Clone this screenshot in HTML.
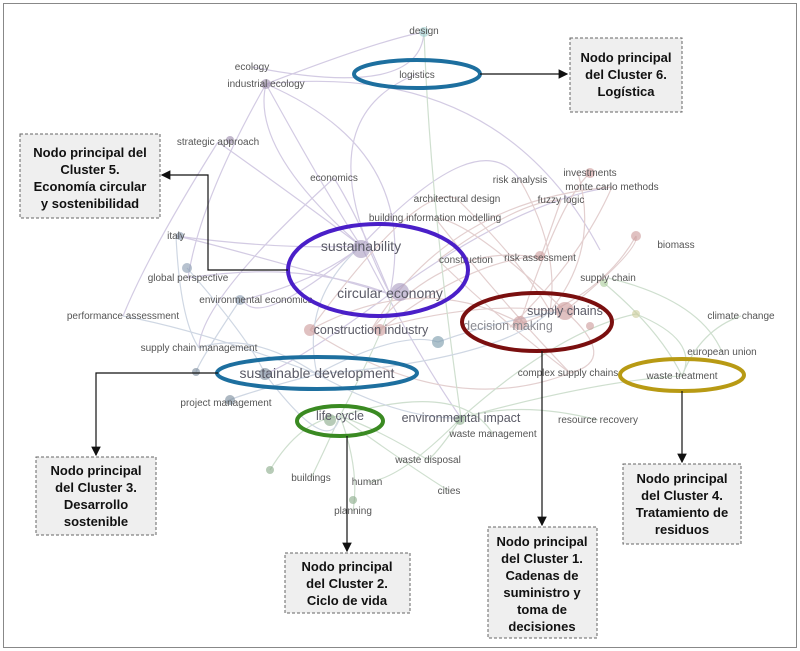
<!DOCTYPE html>
<html><head><meta charset="utf-8"><style>
html,body{margin:0;padding:0;background:#fff;}
svg{display:block;}
.l{font-family:"Liberation Sans",sans-serif;fill:#555;font-size:10px;text-anchor:middle;}
.b{font-family:"Liberation Sans",sans-serif;fill:#5a5a66;font-size:14px;text-anchor:middle;}
.m{font-family:"Liberation Sans",sans-serif;fill:#5a5a66;font-size:12.5px;text-anchor:middle;}
.bx{font-family:"Liberation Sans",sans-serif;font-weight:bold;font-size:13px;fill:#111;text-anchor:middle;}
</style></head><body>
<svg width="800" height="651" viewBox="0 0 800 651" xmlns="http://www.w3.org/2000/svg">
<defs><marker id="a" markerWidth="8" markerHeight="8" refX="7" refY="4" orient="auto"><path d="M0,0 L8,4 L0,8 z" fill="#111"/></marker></defs>
<rect x="3.5" y="3.5" width="793" height="644" fill="#fff" stroke="#888" stroke-width="1"/>
<g fill="none" stroke-width="1.2" opacity="0.5">
<g stroke="#a898c8">
<path d="M266,84 Q330,200 361,246"/><path d="M266,84 Q420,150 390,294"/><path d="M218,142 Q300,200 361,246"/><path d="M334,178 Q360,220 390,294"/><path d="M176,236 Q280,250 361,246"/><path d="M188,278 Q300,260 390,294"/><path d="M243,300 Q320,280 361,246"/><path d="M266,84 Q200,200 188,278"/><path d="M252,67 Q420,100 424,32"/><path d="M266,84 Q500,60 600,250"/><path d="M218,142 Q150,250 123,316"/><path d="M334,178 Q200,300 199,348"/>
<path d="M361,246 Q250,150 266,84"/><path d="M390,294 Q300,120 417,74"/><path d="M361,246 Q480,120 520,180"/><path d="M390,294 Q200,240 176,236"/><path d="M361,246 Q260,330 243,300"/><path d="M390,294 Q300,360 265,374"/><path d="M361,246 Q420,360 461,418"/><path d="M390,294 Q520,200 612,187"/><path d="M266,84 Q380,40 424,32"/>
</g>
<g stroke="#c8a0a0">
<path d="M371,330 Q450,240 540,258"/><path d="M371,330 Q480,300 550,311"/><path d="M457,199 Q520,260 550,311"/><path d="M520,180 Q560,250 550,311"/><path d="M435,218 Q500,300 570,373"/><path d="M578,173 Q600,250 550,311"/><path d="M612,187 Q580,260 510,327"/><path d="M561,200 Q540,260 540,258"/><path d="M438,260 Q500,320 570,373"/><path d="M371,330 Q450,200 612,187"/><path d="M310,330 Q450,420 570,373"/><path d="M636,236 Q600,300 510,327"/>
<path d="M565,311 Q470,220 435,218"/><path d="M520,323 Q420,270 310,330"/><path d="M565,311 Q640,250 636,236"/><path d="M520,323 Q560,200 590,173"/><path d="M310,330 Q420,180 457,199"/><path d="M380,330 Q470,260 540,256"/><path d="M565,311 Q620,360 570,373"/><path d="M438,260 Q520,200 561,200"/>
</g>
<g stroke="#a0c0a0">
<path d="M340,416 Q400,460 449,491"/><path d="M340,416 Q320,460 311,478"/><path d="M340,416 Q360,470 353,511"/><path d="M461,418 Q440,450 428,460"/><path d="M461,418 Q520,400 598,420"/><path d="M461,418 Q400,480 367,482"/><path d="M270,470 Q300,420 340,416"/><path d="M461,418 Q600,380 682,376"/><path d="M682,376 Q700,330 741,316"/><path d="M608,278 Q700,300 722,352"/><path d="M340,416 Q400,300 390,294"/><path d="M424,32 Q430,200 461,418"/>
<path d="M636,314 Q700,340 682,376"/><path d="M604,283 Q660,330 682,376"/><path d="M461,418 Q560,330 636,314"/><path d="M340,416 Q460,380 493,434"/><path d="M428,460 Q380,430 340,416"/>
</g>
<g stroke="#a0b0c8">
<path d="M317,374 Q220,400 226,403"/><path d="M317,374 Q250,330 199,348"/><path d="M317,374 Q200,330 123,316"/><path d="M317,374 Q400,330 438,342"/><path d="M317,374 Q300,300 361,246"/><path d="M176,236 Q180,320 199,348"/><path d="M317,374 Q400,420 461,418"/><path d="M317,374 Q500,360 550,311"/>
<path d="M187,268 Q250,340 265,374"/><path d="M240,300 Q200,360 196,372"/><path d="M438,342 Q500,320 565,311"/><path d="M265,374 Q330,460 340,416"/>
</g>
</g>
<g opacity="0.6">
<circle cx="424" cy="32" r="5" fill="#9cc"/><circle cx="266" cy="84" r="5" fill="#98a"/><circle cx="361" cy="249" r="9" fill="#a99bc0"/><circle cx="400" cy="292" r="9" fill="#a99bc0"/><circle cx="310" cy="330" r="6" fill="#c99"/><circle cx="380" cy="330" r="6" fill="#c99"/><circle cx="438" cy="342" r="6" fill="#79a"/><circle cx="565" cy="311" r="9" fill="#c99"/><circle cx="520" cy="323" r="7" fill="#c99"/><circle cx="590" cy="326" r="4" fill="#c99"/><circle cx="540" cy="256" r="5" fill="#c99"/><circle cx="636" cy="236" r="5" fill="#c99"/><circle cx="590" cy="173" r="5" fill="#c99"/><circle cx="230" cy="140" r="4" fill="#98a"/><circle cx="187" cy="268" r="5" fill="#889ab0"/><circle cx="240" cy="300" r="5" fill="#889ab0"/><circle cx="265" cy="374" r="6" fill="#789"/><circle cx="196" cy="372" r="4" fill="#789"/><circle cx="230" cy="400" r="5" fill="#789"/><circle cx="330" cy="420" r="6" fill="#8a8"/><circle cx="460" cy="420" r="5" fill="#8a8"/><circle cx="270" cy="470" r="4" fill="#8a8"/><circle cx="353" cy="500" r="4" fill="#8a8"/><circle cx="636" cy="314" r="4" fill="#cc9"/><circle cx="604" cy="283" r="4" fill="#ac9"/><circle cx="180" cy="236" r="4" fill="#889ab0"/></g>
<g>
<text class="l" x="424" y="34">design</text>
<text class="l" x="252" y="70">ecology</text>
<text class="l" x="266" y="87">industrial ecology</text>
<text class="l" x="417" y="78">logistics</text>
<text class="l" x="218" y="145">strategic approach</text>
<text class="l" x="334" y="181">economics</text>
<text class="l" x="520" y="183">risk analysis</text>
<text class="l" x="590" y="176">investments</text>
<text class="l" x="612" y="190">monte carlo methods</text>
<text class="l" x="457" y="202">architectural design</text>
<text class="l" x="561" y="203">fuzzy logic</text>
<text class="l" x="435" y="221">building information modelling</text>
<text class="l" x="176" y="239">italy</text>
<text class="l" x="676" y="248">biomass</text>
<text class="b" x="361" y="251">sustainability</text>
<text class="l" x="466" y="263">construction</text>
<text class="l" x="540" y="261">risk assessment</text>
<text class="l" x="608" y="281">supply chain</text>
<text class="l" x="188" y="281">global perspective</text>
<text class="l" x="256" y="303">environmental economics</text>
<text class="b" x="390" y="298">circular economy</text>
<text class="m" x="565" y="315">supply chains</text>
<text class="l" x="741" y="319">climate change</text>
<text class="l" x="123" y="319">performance assessment</text>
<text class="m" x="371" y="334">construction industry</text>
<text class="m" x="508" y="330" style="fill:#8a8a90">decision making</text>
<text class="l" x="199" y="351">supply chain management</text>
<text class="l" x="722" y="355">european union</text>
<text class="b" x="317" y="378">sustainable development</text>
<text class="l" x="568" y="376">complex supply chains</text>
<text class="l" x="682" y="379">waste treatment</text>
<text class="l" x="226" y="406">project management</text>
<text class="m" x="340" y="420">life cycle</text>
<text class="m" x="461" y="422">environmental impact</text>
<text class="l" x="598" y="423">resource recovery</text>
<text class="l" x="493" y="437">waste management</text>
<text class="l" x="428" y="463">waste disposal</text>
<text class="l" x="311" y="481">buildings</text>
<text class="l" x="367" y="485">human</text>
<text class="l" x="449" y="494">cities</text>
<text class="l" x="353" y="514">planning</text>
</g>
<g fill="none" stroke-width="4">
<ellipse cx="417" cy="74" rx="63" ry="14" stroke="#1d6f9f"/>
<ellipse cx="378" cy="270" rx="90" ry="46" stroke="#4a1fc8"/>
<ellipse cx="537" cy="322" rx="75" ry="29" stroke="#7a0f0f"/>
<ellipse cx="317" cy="373" rx="100" ry="16" stroke="#1d6f9f"/>
<ellipse cx="340" cy="421" rx="43" ry="15" stroke="#3a8a22"/>
<ellipse cx="682" cy="375" rx="62" ry="16" stroke="#b89a14"/>
</g>
<g fill="none" stroke="#111" stroke-width="1.2">
<path d="M480,74 L567,74" marker-end="url(#a)"/>
<path d="M288,270 L208,270 L208,175 L162,175" marker-end="url(#a)"/>
<path d="M218,373 L96,373 L96,455" marker-end="url(#a)"/>
<path d="M347,436 L347,551" marker-end="url(#a)"/>
<path d="M542,351 L542,525" marker-end="url(#a)"/>
<path d="M682,391 L682,462" marker-end="url(#a)"/>
</g>
<g fill="#efefef" stroke="#666" stroke-dasharray="3,2">
<rect x="570" y="38" width="112" height="74"/>
<rect x="20" y="134" width="140" height="84"/>
<rect x="36" y="457" width="120" height="78"/>
<rect x="285" y="553" width="125" height="60"/>
<rect x="488" y="527" width="109" height="111"/>
<rect x="623" y="464" width="118" height="80"/>
</g>
<text class="bx" x="626" y="62">Nodo principal<tspan x="626" dy="17">del Cluster 6.</tspan><tspan x="626" dy="17">Logística</tspan></text>
<text class="bx" x="90" y="157">Nodo principal del<tspan x="90" dy="17">Cluster 5.</tspan><tspan x="90" dy="17">Economía circular</tspan><tspan x="90" dy="17">y sostenibilidad</tspan></text>
<text class="bx" x="96" y="475">Nodo principal<tspan x="96" dy="17">del Cluster 3.</tspan><tspan x="96" dy="17">Desarrollo</tspan><tspan x="96" dy="17">sostenible</tspan></text>
<text class="bx" x="347" y="571">Nodo principal<tspan x="347" dy="17">del Cluster 2.</tspan><tspan x="347" dy="17">Ciclo de vida</tspan></text>
<text class="bx" x="542" y="546">Nodo principal<tspan x="542" dy="17">del Cluster 1.</tspan><tspan x="542" dy="17">Cadenas de</tspan><tspan x="542" dy="17">suministro y</tspan><tspan x="542" dy="17">toma de</tspan><tspan x="542" dy="17">decisiones</tspan></text>
<text class="bx" x="682" y="483">Nodo principal<tspan x="682" dy="17">del Cluster 4.</tspan><tspan x="682" dy="17">Tratamiento de</tspan><tspan x="682" dy="17">residuos</tspan></text>
</svg>
</body></html>
